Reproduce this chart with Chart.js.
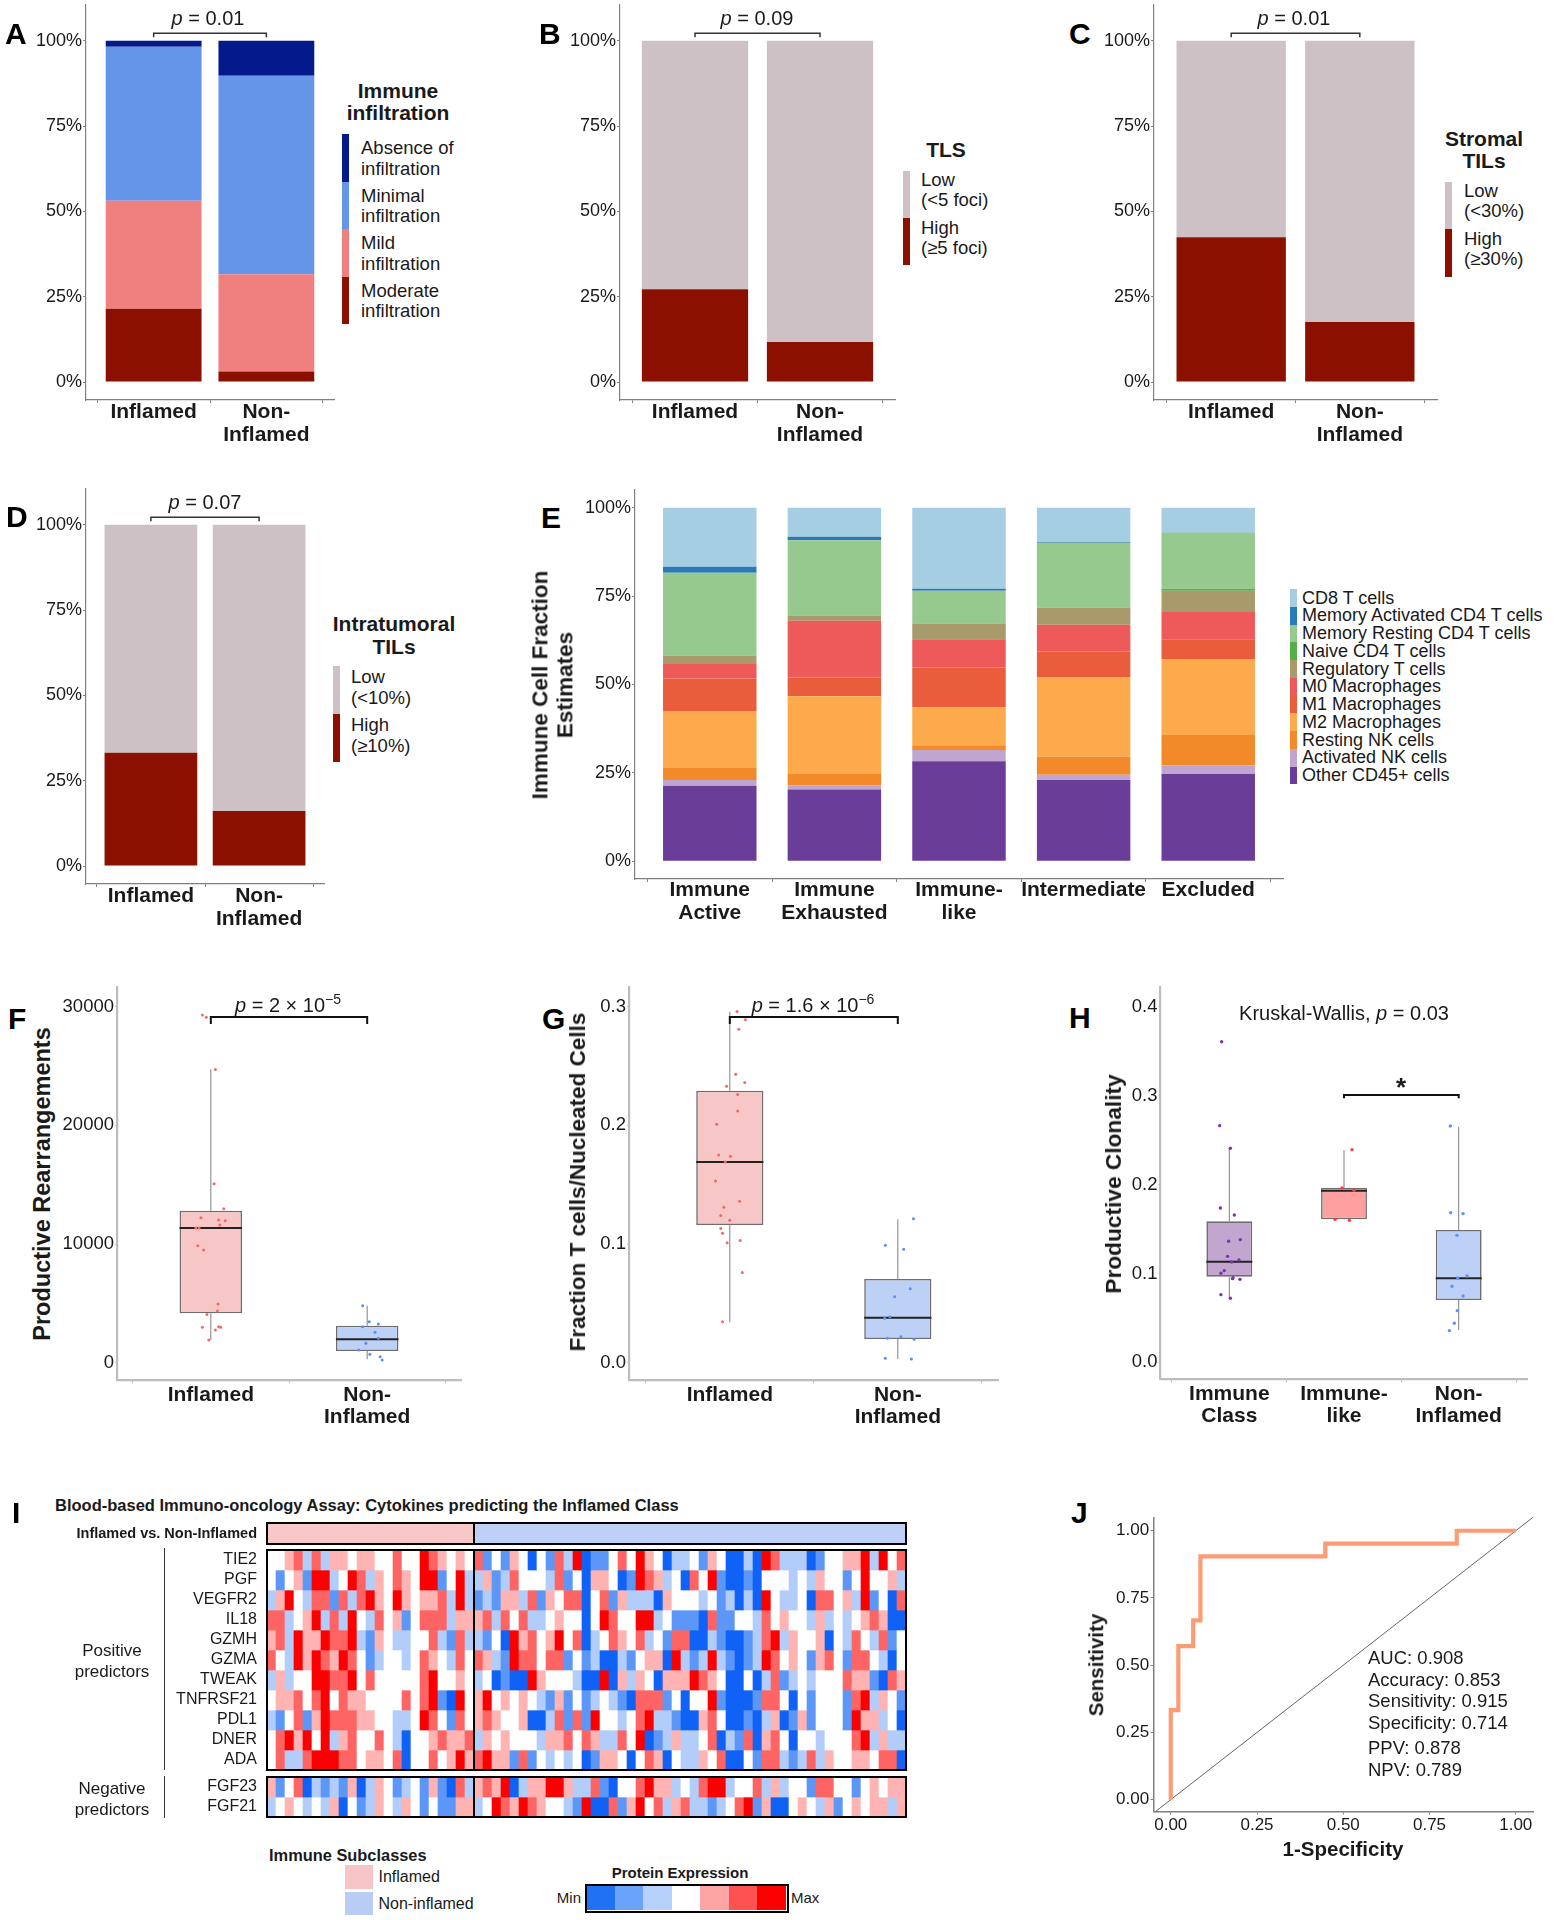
<!DOCTYPE html>
<html>
<head>
<meta charset="utf-8">
<title>Immune classes</title>
<script src="https://cdn.jsdelivr.net/npm/chart.js@4.4.1/dist/chart.umd.min.js"></script>
<style>
  html, body { margin: 0; padding: 0; background: #fff; }
  body { position: relative; width: 1559px; height: 1920px; overflow: hidden; font-family: "Liberation Sans", Arial, sans-serif; color: #111; }
  canvas { position: absolute; }
  .t { position: absolute; white-space: nowrap; line-height: 1.15; }
  .k { position: absolute; }
  sup { font-size: 70%; vertical-align: 0; position: relative; top: -0.6em; }
</style>
</head>
<body>
<script>
// ---------- data ----------
// A-D : Inflamed vs Non-Inflamed (percent of samples)
const abLabels = [['Inflamed'], ['Non-', 'Inflamed']];
const abPos = [0, 1];
const pctTicks = [0, 25, 50, 75, 100];

const infModerate = [21.5, 3.1];
const infMild = [31.6, 28.5];
const infMinimal = [45.1, 58.1];
const infAbsence = [1.8, 10.3];

const tlsHigh = [27.2, 11.7];
const tlsLow = [72.8, 88.3];

const stromalHigh = [42.4, 17.6];
const stromalLow = [57.6, 82.4];

const intraHigh = [33.2, 16.1];
const intraLow = [66.8, 83.9];

// E : immune cell fraction estimates by subclass
const subclasses = [['Immune', 'Active'], ['Immune', 'Exhausted'], ['Immune-', 'like'], ['Intermediate'], ['Excluded']];
const subPos = [0, 1, 2, 3, 4];
const cellOther   = [21.4, 20.3, 28.3, 23.0, 24.7];
const cellActNK   = [1.6, 1.2, 3.2, 1.5, 2.4];
const cellRestNK  = [3.4, 3.2, 1.3, 5.1, 8.6];
const cellM2      = [16.1, 22.0, 10.7, 22.5, 21.5];
const cellM1      = [9.2, 5.3, 11.3, 7.2, 5.6];
const cellM0      = [4.1, 16.0, 8.0, 7.6, 7.7];
const cellTreg    = [2.3, 1.5, 4.3, 4.8, 6.0];
const cellNaive   = [0.1, 0.1, 0.1, 0.1, 0.6];
const cellMemRest = [23.4, 21.2, 9.3, 18.3, 15.8];
const cellMemAct  = [1.7, 1.0, 0.6, 0.2, 0.1];
const cellCD8     = [16.7, 8.2, 22.9, 9.7, 7.0];

// F : productive rearrangements
const rearrLo  = [1910, 281];
const rearrQ1  = [4157, 983];
const rearrMed = [11348, 1966];
const rearrQ3  = [12809, 3118];
const rearrHi  = [24719, 4803];
const rearrInfl = [29300, 29100, 24700, 15080, 12980, 12220, 12020, 11970, 11600, 11350, 11350, 9860, 9500, 4940, 4350, 4070, 2980, 3030, 2980, 2750, 1910];
const rearrInflJit = [-0.054, -0.029, 0.029, 0.021, 0.083, -0.063, 0.05, 0.092, 0.058, -0.096, -0.075, -0.083, -0.046, 0.046, 0.042, -0.025, -0.054, 0.05, 0.063, 0.029, -0.013];
const rearrNon = [4800, 3455, 3260, 3030, 2556, 2050, 1630, 1067, 702, 505, 225];
const rearrNonJit = [-0.029, 0.013, 0.071, -0.029, 0.05, 0.071, -0.008, -0.054, 0.017, 0.083, 0.096];

// G : fraction T cells / nucleated cells
const fracLo  = [0.034, 0.0031];
const fracQ1  = [0.116, 0.0199];
const fracMed = [0.1691, 0.0379];
const fracQ3  = [0.2292, 0.0705];
const fracHi  = [0.2958, 0.1208];
const fracInfl = [0.296, 0.289, 0.281, 0.243, 0.236, 0.233, 0.226, 0.212, 0.201, 0.175, 0.174, 0.169, 0.153, 0.136, 0.131, 0.124, 0.120, 0.113, 0.109, 0.101, 0.103, 0.076, 0.0346];
const fracInflJit = [0.043, 0.093, 0.054, 0.035, 0.089, -0.019, 0.047, 0.047, -0.078, -0.066, 0.004, -0.027, -0.085, 0.058, -0.035, -0.054, 0, -0.054, -0.043, -0.016, 0.062, 0.074, -0.043];
const fracNon = [0.1213, 0.0989, 0.0955, 0.0624, 0.0556, 0.0388, 0.0374, 0.0205, 0.0219, 0.0197, 0.0037, 0.0031];
const fracNonJit = [0.093, -0.074, 0.035, 0.074, -0.019, -0.047, -0.078, -0.062, 0.019, 0.097, -0.074, 0.081];

// H : productive clonality
const clonCats = [['Immune', 'Class'], ['Immune-', 'like'], ['Non-', 'Inflamed']];
const clonLo  = [0.072, 0.1608, 0.0364];
const clonQ1  = [0.0963, 0.1608, 0.0701];
const clonMed = [0.1132, 0.1931, 0.0945];
const clonQ3  = [0.1586, 0.1964, 0.1488];
const clonHi  = [0.2407, 0.2388, 0.265];
const clonClass = [0.3606, 0.2662, 0.2407, 0.1736, 0.1657, 0.1361, 0.138, 0.1192, 0.1151, 0.1128, 0.1031, 0.1001, 0.0952, 0.0941, 0.0933, 0.0761, 0.072];
const clonClassJit = [-0.067, -0.084, 0.009, -0.078, 0.044, -0.006, 0.096, -0.015, 0.084, 0.02, -0.044, -0.073, 0.032, 0.029, 0.093, -0.073, 0.009];
const clonLike = [0.2392, 0.196, 0.1934, 0.1608, 0.1597];
const clonLikeJit = [0.07, -0.017, 0.087, -0.078, 0.047];
const clonNon = [0.2658, 0.1683, 0.1672, 0.1428, 0.0971, 0.0948, 0.0855, 0.0746, 0.0581, 0.0439, 0.0356];
const clonNonJit = [-0.073, -0.07, 0.038, -0.015, 0.073, -0.009, -0.058, 0.038, -0.012, -0.038, -0.081];

// I : heatmap, levels 0 (min, blue) .. 6 (max, red)
const hmRows = ['TIE2', 'PGF', 'VEGFR2', 'IL18', 'GZMH', 'GZMA', 'TWEAK', 'TNFRSF21', 'PDL1', 'DNER', 'ADA', 'FGF23', 'FGF21'];
const hmInflamed = [
  '33452524434433533654343',
  '31341662365243543661362',
  '24632551525643643445262',
  '55234625263253413555244',
  '45264465562143223352152',
  '53264654653123323543253',
  '24233665563533333563343',
  '34453563544333353561063',
  '21351465554433223653153',
  '35646362453353203345445',
  '35225666553443503353464',
  '41350212140243123141052',
  '23432324031243243131144'
];
const hmNonInflamed = [
  '5131430315260113536430223' + '14300206522201334462635',
  '2412533325130443016542305' + '36100103332324331363342',
  '1214425143550351422204333' + '23120206322305534261305',
  '4525352234330365336623111' + '05113325343324232345400',
  '2130645346350235435231550' + '02100125624334032532513',
  '5421655355131200213440621' + '26210126534314531553203',
  '2301006433320060424304446' + '54300302512323335441054',
  '4634343214131232105551303' + '36100015530313331562431',
  '4543340025151633235622100' + '45300102401413331644230',
  '2434333244535422536012422' + '35021504530332333562422',
  '5644151323230144303540322' + '43500315521252433443550',
  '4546024466422510335644232' + '56623352423315533134344',
  '2365465433216005146352452' + '21235614003432413434424'
];

// J : ROC curve
const rocFpr = [0, 0, 0.022, 0.022, 0.065, 0.065, 0.086, 0.086, 0.448, 0.448, 0.829, 0.829, 1];
const rocTpr = [0, 0.333, 0.333, 0.571, 0.571, 0.667, 0.667, 0.905, 0.905, 0.952, 0.952, 1, 1];
const rocTicks = [0, 0.25, 0.5, 0.75, 1];
const rocStats = ['AUC: 0.908', 'Accuracy: 0.853', 'Sensitivity: 0.915', 'Specificity: 0.714', 'PPV: 0.878', 'NPV: 0.789'];

// ---------- style ----------
const FONT = '"Liberation Sans", Arial, sans-serif';
const INK = '#1a1a1a';
const AXIS = '#808080';
const C_NAVY = '#04198C', C_MINIMAL = '#6495E8', C_MILD = '#F08080', C_DARKRED = '#8B1000', C_LOW = '#CDC1C5';
const cellColors = {
  cd8: '#A6CEE3', memAct: '#2A7AB8', memRest: '#96C98E', naive: '#55AE47', treg: '#A99A6C',
  m0: '#EE5A5A', m1: '#E95C3C', m2: '#FDAA4C', restNK: '#F38A2A', actNK: '#C0A5D0', other: '#6A3D99'
};
const hmPalette = ['#0F62F5', '#5C97F8', '#B3CDFB', '#FFFFFF', '#FFB3B3', '#FF6464', '#FA0000'];
const FILL_INF = '#F7C6C6', FILL_NON = '#BDD0F5';

Chart.defaults.font.family = FONT;
Chart.defaults.animation = false;
Chart.defaults.responsive = false;
Chart.defaults.devicePixelRatio = 1;
Chart.defaults.plugins.legend.display = false;
Chart.defaults.plugins.tooltip.enabled = false;

// ---------- helpers ----------
function addCanvas(b) {
  const c = document.createElement('canvas');
  c.width = b.w; c.height = b.h;
  Object.assign(c.style, { left: b.l + 'px', top: b.t + 'px', width: b.w + 'px', height: b.h + 'px' });
  document.body.appendChild(c);
  return c;
}

function txt(html, x, y, o = {}) {
  const d = document.createElement('div');
  d.className = 't';
  d.innerHTML = html;
  d.style.fontSize = (o.size || 18) + 'px';
  if (o.bold) d.style.fontWeight = 'bold';
  if (o.lh) d.style.lineHeight = o.lh + 'px';
  d.style.color = o.color || INK;
  d.style.left = x + 'px';
  d.style.top = y + 'px';
  d.style.textAlign = o.align || 'center';
  const ax = o.align === 'left' ? '0' : o.align === 'right' ? '-100%' : '-50%';
  d.style.transform = `translate(${ax}, -50%)` + (o.rot ? ` rotate(${o.rot}deg)` : '');
  document.body.appendChild(d);
}

function key(x, y, w, h, color) {
  const d = document.createElement('div');
  d.className = 'k';
  Object.assign(d.style, { left: x + 'px', top: y + 'px', width: w + 'px', height: h + 'px', background: color });
  document.body.appendChild(d);
}

function fit(box, area) {
  return {
    yW: area.x0 - box.l,
    xH: box.t + box.h - area.y1,
    pad: { left: 0, bottom: 0, top: area.y0 - box.t, right: box.l + box.w - area.x1 }
  };
}

function xAxis(o) {
  return {
    type: 'linear', min: o.min, max: o.max, offset: false, stacked: !!o.stacked,
    afterBuildTicks: s => { s.ticks = (o.ticks || []).map(v => ({ value: v })); },
    afterFit: s => { s.height = o.h; s.paddingLeft = 0; s.paddingRight = 0; },
    ticks: {
      display: !!o.labels, autoSkip: false, maxRotation: 0, minRotation: 0, padding: o.pad || 0, color: INK,
      font: { family: FONT, size: o.size || 18, weight: o.bold ? 'bold' : 'normal', lineHeight: o.lh || 1.2 },
      callback: (v, i) => (o.labels ? o.labels[i] : '')
    },
    grid: { display: !o.hide, drawOnChartArea: false, drawTicks: !!o.tl, tickLength: o.tl || 0, color: o.color || AXIS, lineWidth: 1 },
    border: { display: !o.hide, color: o.color || AXIS, width: o.bw || 1.2 }
  };
}

function yAxis(o) {
  return {
    type: 'linear', min: o.min, max: o.max, reverse: !!o.reverse, stacked: !!o.stacked,
    afterBuildTicks: s => { s.ticks = o.ticks.map(v => ({ value: v })); },
    afterFit: s => { s.width = o.w; s.paddingTop = 0; s.paddingBottom = 0; },
    ticks: {
      autoSkip: false, padding: o.pad || 0, color: INK,
      font: o.font || { family: FONT, size: o.size || 18 },
      callback: o.fmt
    },
    grid: { display: !o.hide, drawOnChartArea: false, drawTicks: !!o.tl, tickLength: o.tl || 0, color: o.color || AXIS, lineWidth: 1 },
    border: { display: !o.hide, color: o.color || AXIS, width: o.bw || 1.2 }
  };
}

function bracketPlugin(list, color, width) {
  return {
    id: 'bracket',
    afterDatasetsDraw(chart) {
      const { ctx, scales: { x, y } } = chart;
      ctx.save();
      ctx.strokeStyle = color; ctx.lineWidth = width;
      list.forEach(b => {
        const xa = x.getPixelForValue(b.a), xb = x.getPixelForValue(b.b);
        const yl = y.getPixelForValue(b.y), yt = y.getPixelForValue(b.tip);
        ctx.beginPath(); ctx.moveTo(xa, yt); ctx.lineTo(xa, yl); ctx.lineTo(xb, yl); ctx.lineTo(xb, yt); ctx.stroke();
      });
      ctx.restore();
    }
  };
}

// whiskers behind the boxes, median drawn right after the boxes (before the points)
function boxPlugin(st, halfW, whiskColor, whiskW) {
  return {
    id: 'boxparts',
    beforeDatasetsDraw(chart) {
      const { ctx, scales: { x, y } } = chart;
      ctx.save(); ctx.strokeStyle = whiskColor; ctx.lineWidth = whiskW;
      st.med.forEach((m, i) => {
        const cx = x.getPixelForValue(i);
        ctx.beginPath();
        ctx.moveTo(cx, y.getPixelForValue(st.hi[i])); ctx.lineTo(cx, y.getPixelForValue(st.q3[i]));
        ctx.moveTo(cx, y.getPixelForValue(st.q1[i])); ctx.lineTo(cx, y.getPixelForValue(st.lo[i]));
        ctx.stroke();
      });
      ctx.restore();
    },
    afterDatasetDraw(chart, args) {
      if (args.index !== 0) return;
      const { ctx, scales: { x, y } } = chart;
      ctx.save(); ctx.strokeStyle = '#222'; ctx.lineWidth = 2;
      st.med.forEach((m, i) => {
        const py = y.getPixelForValue(m);
        ctx.beginPath(); ctx.moveTo(x.getPixelForValue(i - halfW), py); ctx.lineTo(x.getPixelForValue(i + halfW), py); ctx.stroke();
      });
      ctx.restore();
    }
  };
}

// ---------- stacked 100% bars (A-E) ----------
function stackChart(box, area, yr, pos, labels, sets, o) {
  const L = fit(box, area);
  new Chart(addCanvas(box), {
    type: 'bar',
    data: {
      datasets: sets.map(s => ({
        label: s.label,
        data: s.values.map((v, i) => ({ x: pos[i], y: v })),
        backgroundColor: s.color, borderWidth: 0,
        barPercentage: o.barPct, categoryPercentage: 1
      }))
    },
    options: {
      layout: { padding: L.pad },
      scales: {
        x: xAxis({ min: -0.6, max: pos.length - 0.4, ticks: pos, labels, h: L.xH, stacked: true, size: 21, bold: true, lh: 1.1, tl: 3, pad: o.xPad }),
        y: yAxis({ min: yr[0], max: yr[1], ticks: pctTicks, fmt: v => v + '%', w: L.yW, stacked: true, tl: 3, pad: 1 })
      }
    },
    plugins: o.bracket ? [bracketPlugin([o.bracket], '#333', 1.5)] : []
  });
}

const abY = [-5.27, 110.46];
const abBracket = { a: 0, b: 1, y: 102.15, tip: 100.98 };

stackChart({ l: 0, t: 0, w: 340, h: 450 }, { x0: 86, x1: 334, y0: 5, y1: 400 }, abY, abPos, abLabels, [
  { label: 'Moderate infiltration', values: infModerate, color: C_DARKRED },
  { label: 'Mild infiltration', values: infMild, color: C_MILD },
  { label: 'Minimal infiltration', values: infMinimal, color: C_MINIMAL },
  { label: 'Absence of infiltration', values: infAbsence, color: C_NAVY }
], { barPct: 0.85, xPad: -2.5, bracket: abBracket });

stackChart({ l: 560, t: 0, w: 340, h: 450 }, { x0: 620, x1: 895, y0: 5, y1: 400 }, abY, abPos, abLabels, [
  { label: 'High (≥5 foci)', values: tlsHigh, color: C_DARKRED },
  { label: 'Low (<5 foci)', values: tlsLow, color: C_LOW }
], { barPct: 0.85, xPad: -2.5, bracket: abBracket });

stackChart({ l: 1095, t: 0, w: 345, h: 450 }, { x0: 1154, x1: 1437, y0: 5, y1: 400 }, abY, abPos, abLabels, [
  { label: 'High (≥30%)', values: stromalHigh, color: C_DARKRED },
  { label: 'Low (<30%)', values: stromalLow, color: C_LOW }
], { barPct: 0.85, xPad: -2.5, bracket: abBracket });

stackChart({ l: 0, t: 480, w: 330, h: 455 }, { x0: 86, x1: 324, y0: 489, y1: 884 }, abY, abPos, abLabels, [
  { label: 'High (≥10%)', values: intraHigh, color: C_DARKRED },
  { label: 'Low (<10%)', values: intraLow, color: C_LOW }
], { barPct: 0.857, xPad: -2, bracket: abBracket });

stackChart({ l: 575, t: 485, w: 715, h: 450 }, { x0: 635, x1: 1283, y0: 490, y1: 879 }, [-5, 105], subPos, subclasses, [
  { label: 'Other CD45+ cells', values: cellOther, color: cellColors.other },
  { label: 'Activated NK cells', values: cellActNK, color: cellColors.actNK },
  { label: 'Resting NK cells', values: cellRestNK, color: cellColors.restNK },
  { label: 'M2 Macrophages', values: cellM2, color: cellColors.m2 },
  { label: 'M1 Macrophages', values: cellM1, color: cellColors.m1 },
  { label: 'M0 Macrophages', values: cellM0, color: cellColors.m0 },
  { label: 'Regulatory T cells', values: cellTreg, color: cellColors.treg },
  { label: 'Naive CD4 T cells', values: cellNaive, color: cellColors.naive },
  { label: 'Memory Resting CD4 T cells', values: cellMemRest, color: cellColors.memRest },
  { label: 'Memory Activated CD4 T cells', values: cellMemAct, color: cellColors.memAct },
  { label: 'CD8 T cells', values: cellCD8, color: cellColors.cd8 }
], { barPct: 0.75, xPad: -3 });

// ---------- box plots (F-H) ----------
function boxChart(box, area, yr, yTicks, yFmt, cats, st, fills, groups, o) {
  const L = fit(box, area);
  const pos = cats.map((c, i) => i);
  const datasets = [{
    type: 'bar', order: 2,
    data: pos.map(i => ({ x: i, y: [st.q1[i], st.q3[i]] })),
    backgroundColor: fills, borderColor: '#6e6e6e', borderWidth: 1.6, borderSkipped: false,
    barPercentage: 0.4, categoryPercentage: 1
  }];
  groups.forEach((g, gi) => {
    datasets.push({
      type: 'scatter', order: 1,
      data: g.values.map((v, k) => ({ x: gi + g.jit[k], y: v })),
      backgroundColor: g.color, borderWidth: 0, pointRadius: o.r || 1.5
    });
  });
  new Chart(addCanvas(box), {
    type: 'bar',
    data: { datasets },
    options: {
      layout: { padding: L.pad },
      scales: {
        x: xAxis({ min: -0.6, max: cats.length - 0.4, ticks: pos, labels: cats, h: L.xH, size: 21, bold: true, lh: 1.06, tl: 3, pad: 0.8, color: '#BDBDBD', bw: 2.2 }),
        y: yAxis({ min: yr[0], max: yr[1], ticks: yTicks, fmt: yFmt, w: L.yW, size: 18.5, tl: 2, pad: 1, color: '#BDBDBD', bw: 2.2 })
      }
    },
    plugins: [boxPlugin(st, 0.2, '#8a8a8a', 1.1), bracketPlugin([o.bracket], '#111', 2)]
  });
}

boxChart({ l: 60, t: 980, w: 410, h: 460 }, { x0: 117, x1: 461, y0: 987.3, y1: 1380 }, [-1458, 31634],
  [0, 10000, 20000, 30000], v => String(v), abLabels,
  { lo: rearrLo, q1: rearrQ1, med: rearrMed, q3: rearrQ3, hi: rearrHi }, [FILL_INF, FILL_NON],
  [{ values: rearrInfl, jit: rearrInflJit, color: '#F06A6A' }, { values: rearrNon, jit: rearrNonJit, color: '#5A8EF0' }],
  { bracket: { a: 0, b: 1, y: 29130, tip: 28540 } });

boxChart({ l: 590, t: 980, w: 415, h: 460 }, { x0: 629, x1: 998.6, y0: 987.3, y1: 1380 }, [-0.01458, 0.3163],
  [0, 0.1, 0.2, 0.3], v => v.toFixed(1), abLabels,
  { lo: fracLo, q1: fracQ1, med: fracMed, q3: fracQ3, hi: fracHi }, [FILL_INF, FILL_NON],
  [{ values: fracInfl, jit: fracInflJit, color: '#F06A6A' }, { values: fracNon, jit: fracNonJit, color: '#5A8EF0' }],
  { bracket: { a: 0, b: 1, y: 0.2913, tip: 0.2854 } });

boxChart({ l: 1120, t: 980, w: 420, h: 460 }, { x0: 1160.5, x1: 1527.5, y0: 987.3, y1: 1379.3 }, [-0.0191, 0.4218],
  [0, 0.1, 0.2, 0.3, 0.4], v => v.toFixed(1), clonCats,
  { lo: clonLo, q1: clonQ1, med: clonMed, q3: clonQ3, hi: clonHi }, ['#C2A6CF', '#FFA0A0', FILL_NON],
  [{ values: clonClass, jit: clonClassJit, color: '#7A35A8' }, { values: clonLike, jit: clonLikeJit, color: '#FF3A3A' }, { values: clonNon, jit: clonNonJit, color: '#5E95F5' }],
  { bracket: { a: 1, b: 2, y: 0.3007, tip: 0.2970 }, r: 1.7 });

// ---------- heatmap (I) ----------
(function () {
  const box = { l: 0, t: 1515, w: 915, h: 310 };
  const area = { x0: 267, x1: 906, y0: 1523, y1: 1817 };
  const L = fit(box, area);
  const nInf = hmInflamed[0].length;
  const nCol = nInf + hmNonInflamed[0].length;
  const cols = Array.from({ length: nCol }, (_, c) => c);
  const datasets = [{
    data: cols.map(c => ({ x: c + 0.5, y: [-1.35, -0.3] })),
    backgroundColor: cols.map(c => (c < nInf ? '#F8C7C7' : '#BFD0F6')),
    borderWidth: 0, barPercentage: 1, categoryPercentage: 1, grouped: false
  }];
  hmRows.forEach((name, r) => {
    const row = hmInflamed[r] + hmNonInflamed[r];
    const y0 = r < 11 ? r : r + 0.35;
    datasets.push({
      label: name,
      data: cols.map(c => ({ x: c + 0.5, y: [y0, y0 + 1] })),
      backgroundColor: cols.map(c => hmPalette[+row[c]]),
      borderWidth: 0, barPercentage: 1, categoryPercentage: 1, grouped: false
    });
  });
  const tickVals = [-0.825].concat(hmRows.map((n, r) => (r < 11 ? r + 0.5 : r + 0.85)));
  const tickLabels = ['Inflamed vs. Non-Inflamed'].concat(hmRows);
  const frame = {
    id: 'frame',
    afterDatasetsDraw(chart) {
      const { ctx, scales: { x, y } } = chart;
      ctx.save(); ctx.strokeStyle = '#000'; ctx.lineWidth = 2;
      [[-1.35, -0.3], [0, 11], [11.35, 13.35]].forEach(([a, b]) => {
        const xl = x.getPixelForValue(0), xr = x.getPixelForValue(nCol), xs = x.getPixelForValue(nInf);
        const yt = y.getPixelForValue(a), yb = y.getPixelForValue(b);
        ctx.strokeRect(xl, yt, xr - xl, yb - yt);
        ctx.beginPath(); ctx.moveTo(xs, yt); ctx.lineTo(xs, yb); ctx.stroke();
      });
      ctx.restore();
    }
  };
  new Chart(addCanvas(box), {
    type: 'bar',
    data: { datasets },
    options: {
      layout: { padding: L.pad },
      scales: {
        x: xAxis({ min: 0, max: nCol, ticks: [], labels: null, h: L.xH, hide: true }),
        y: yAxis({
          min: -1.35, max: 13.35, reverse: true, ticks: tickVals, w: L.yW, pad: 10, hide: true,
          fmt: (v, i) => tickLabels[i],
          font: ctx => (ctx.index === 0 ? { family: FONT, size: 14.5, weight: 'bold' } : { family: FONT, size: 16 })
        })
      }
    },
    plugins: [frame]
  });
})();

// ---------- ROC (J) ----------
(function () {
  const box = { l: 1100, t: 1505, w: 445, h: 335 };
  const area = { x0: 1153.5, x1: 1533, y0: 1517.3, y1: 1811.5 };
  const L = fit(box, area);
  new Chart(addCanvas(box), {
    type: 'scatter',
    data: {
      datasets: [
        { data: rocFpr.map((f, i) => ({ x: f, y: rocTpr[i] })), showLine: true, borderColor: '#FD9C74', borderWidth: 4.2, pointRadius: 0, borderJoinStyle: 'miter', borderCapStyle: 'butt' },
        { data: [{ x: -0.05, y: -0.05 }, { x: 1.05, y: 1.05 }], showLine: true, borderColor: '#555', borderWidth: 0.9, pointRadius: 0 }
      ]
    },
    options: {
      layout: { padding: L.pad },
      scales: {
        x: xAxis({ min: -0.05, max: 1.05, ticks: rocTicks, labels: rocTicks.map(v => v.toFixed(2)), h: L.xH, size: 17, tl: 3, pad: 0.3, bw: 1.5 }),
        y: yAxis({ min: -0.044, max: 1.05, ticks: rocTicks, fmt: v => v.toFixed(2), w: L.yW, size: 17, tl: 3, pad: 1.3, bw: 1.5 })
      }
    }
  });
})();

// ---------- text, legends, annotations ----------
const letters = [['A', 5, 34], ['B', 539, 34], ['C', 1069, 34], ['D', 6, 517], ['E', 541, 517.5], ['F', 8, 1019], ['G', 542, 1019], ['H', 1069, 1018], ['I', 12, 1513], ['J', 1071, 1513]];
letters.forEach(([s, x, y]) => txt(s, x, y, { size: 30, bold: true, align: 'left', color: '#000' }));

// p-values
txt('<i>p</i> = 0.01', 208, 18, { size: 20 });
txt('<i>p</i> = 0.09', 757, 18, { size: 20 });
txt('<i>p</i> = 0.01', 1294, 18, { size: 20 });
txt('<i>p</i> = 0.07', 205, 502, { size: 20 });
txt('<i>p</i> = 2 × 10<sup>−5</sup>', 288, 1005, { size: 20 });
txt('<i>p</i> = 1.6 × 10<sup>−6</sup>', 813, 1005, { size: 20 });
txt('Kruskal-Wallis, <i>p</i> = 0.03', 1344, 1013, { size: 20 });
txt('*', 1401, 1088, { size: 26, bold: true });

// A legend
txt('Immune<br>infiltration', 398, 102, { size: 21, bold: true, lh: 22 });
[[C_NAVY, 'Absence of<br>infiltration'], [C_MINIMAL, 'Minimal<br>infiltration'], [C_MILD, 'Mild<br>infiltration'], [C_DARKRED, 'Moderate<br>infiltration']]
  .forEach(([c, s], i) => { key(342, 134 + 47.5 * i, 7, 47.5, c); txt(s, 361, 158 + 47.5 * i, { size: 18.5, align: 'left', lh: 20.5 }); });
// B legend
txt('TLS', 946, 150, { size: 21, bold: true });
key(903, 171, 7, 47, C_LOW); key(903, 218, 7, 47, C_DARKRED);
txt('Low<br>(&lt;5 foci)', 921, 190, { size: 18.5, align: 'left', lh: 20 });
txt('High<br>(≥5 foci)', 921, 238, { size: 18.5, align: 'left', lh: 20 });
// C legend
txt('Stromal<br>TILs', 1484, 150, { size: 21, bold: true, lh: 22 });
key(1445, 182, 7, 47, C_LOW); key(1445, 229, 7, 48, C_DARKRED);
txt('Low<br>(&lt;30%)', 1464, 201, { size: 18.5, align: 'left', lh: 20 });
txt('High<br>(≥30%)', 1464, 249, { size: 18.5, align: 'left', lh: 20 });
// D legend
txt('Intratumoral<br>TILs', 394, 635, { size: 21, bold: true, lh: 23 });
key(333, 666, 7, 48, C_LOW); key(333, 714, 7, 48, C_DARKRED);
txt('Low<br>(&lt;10%)', 351, 686.5, { size: 18.5, align: 'left', lh: 21 });
txt('High<br>(≥10%)', 351, 734.5, { size: 18.5, align: 'left', lh: 21 });
// E legend
[['CD8 T cells', 'cd8'], ['Memory Activated CD4 T cells', 'memAct'], ['Memory Resting CD4 T cells', 'memRest'], ['Naive CD4 T cells', 'naive'],
 ['Regulatory T cells', 'treg'], ['M0 Macrophages', 'm0'], ['M1 Macrophages', 'm1'], ['M2 Macrophages', 'm2'],
 ['Resting NK cells', 'restNK'], ['Activated NK cells', 'actNK'], ['Other CD45+ cells', 'other']]
  .forEach(([s, k], i) => { key(1290, 589 + 17.75 * i, 7, 17.75, cellColors[k]); txt(s, 1302, 597.7 + 17.75 * i, { size: 18, align: 'left' }); });

// axis titles
txt('Immune Cell Fraction<br>Estimates', 553, 684.5, { size: 22.5, bold: true, lh: 24.6, rot: -90 });
txt('Productive Rearrangements', 43, 1184, { size: 23.5, bold: true, rot: -90 });
txt('Fraction T cells/Nucleated Cells', 578, 1182, { size: 22.5, bold: true, rot: -90 });
txt('Productive Clonality', 1113, 1184, { size: 22.7, bold: true, rot: -90 });
txt('Sensitivity', 1096, 1665, { size: 20.5, bold: true, rot: -90 });
txt('1-Specificity', 1343, 1849, { size: 20.5, bold: true });

// J stats
[1658, 1679.7, 1701.3, 1723, 1748, 1769.7].forEach((y, i) => txt(rocStats[i], 1368, y, { size: 18.5, align: 'left' }));

// I annotations
txt('Blood-based Immuno-oncology Assay: Cytokines predicting the Inflamed Class', 55, 1505, { size: 16.5, bold: true, align: 'left' });
txt('Positive<br>predictors', 112, 1660.5, { size: 17, lh: 21 });
txt('Negative<br>predictors', 112, 1798.5, { size: 17, lh: 21 });
key(163.5, 1548, 1.5, 222, '#333');
key(163.5, 1776, 1.5, 42, '#333');
txt('Immune Subclasses', 269, 1855, { size: 16.4, bold: true, align: 'left' });
key(345, 1865, 27.5, 24, '#F7C5C6');
key(345, 1892, 27.5, 23, '#B9CCF3');
txt('Inflamed', 378.5, 1877, { size: 16, align: 'left' });
txt('Non-inflamed', 378.5, 1904, { size: 16, align: 'left' });
txt('Protein Expression', 680, 1873, { size: 15, bold: true });
['#2171F5', '#6AA3FA', '#B5D1FC', '#FFFFFF', '#FDA5A5', '#FE5252', '#FD0000']
  .forEach((c, i) => key(586 + 28.5 * i, 1885, 28.5, 25, c));
(function () {
  const d = document.createElement('div');
  Object.assign(d.style, { position: 'absolute', left: '585px', top: '1884px', width: '199.5px', height: '25px', border: '2px solid #000' });
  document.body.appendChild(d);
})();
txt('Min', 581, 1898, { size: 15, align: 'right' });
txt('Max', 791, 1898, { size: 15, align: 'left' });
</script>
</body>
</html>
